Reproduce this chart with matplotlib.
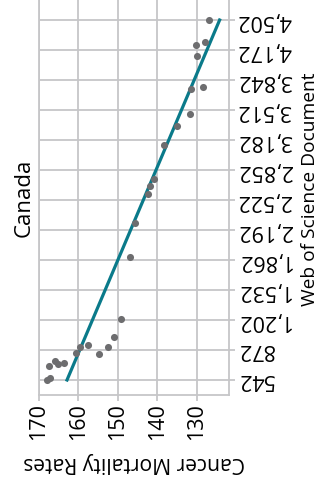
import matplotlib
matplotlib.use("Agg")
from matplotlib import pyplot as plt

plt.rcParams['font.family'] = ['Open Sans', 'DejaVu Sans']

# Canada: cancer mortality rate vs. Web of Science documents
rates = [126.9, 127.9, 130.2, 130.0, 131.4, 128.5, 131.6, 135.0, 138.2,
         140.8, 141.8, 142.3, 145.7, 146.8, 149.2, 151.1, 152.5, 154.8,
         157.5, 159.5, 160.7, 163.6, 165.1, 165.9, 167.5, 167.2, 168.0]
docs = [4502, 4263, 4227, 4106, 3746, 3761, 3468, 3339, 3130,
        2753, 2672, 2588, 2265, 1891, 1216, 1011, 901, 828,
        930, 908, 839, 725, 718, 747, 692, 564, 542]

# fitted trend line end points
trend_rates = [162.9, 124.2]
trend_docs = [542, 4502]

rate_ticks = [170, 160, 150, 140, 130]
doc_ticks = [542, 872, 1202, 1532, 1862, 2192, 2522, 2852,
             3182, 3512, 3842, 4172, 4502]

W, H = 320, 495
ax_h = 395
fig = plt.figure(figsize=(W / 100, H / 100), dpi=100)
ax = fig.add_axes([39 / W, 1 - ax_h / H, (228.7 - 39) / W, ax_h / H])

grid_c = '#c6c6c8'
ax.set_xlim(170, 121.9)
ax.set_ylim(377, 4722)
ax.set_xticks(rate_ticks)
ax.set_yticks(doc_ticks)
ax.set_yticklabels([f"{d:,}" for d in doc_ticks], rotation=180, va='center')
ax.set_xticklabels([str(r) for r in rate_ticks], rotation=90)
ax.grid(True, color=grid_c, linewidth=1.3)
ax.set_axisbelow(True)

ax.yaxis.tick_right()
ax.tick_params(axis='both', colors=grid_c, labelcolor='black',
               labelsize=15.5, length=4, width=1.3, pad=2)
for side in ['left', 'bottom', 'right']:
    ax.spines[side].set_color(grid_c)
    ax.spines[side].set_linewidth(1.3)
ax.spines['top'].set_visible(False)

ax.plot(trend_rates, trend_docs, color='#0a7a8a', linewidth=2.3, zorder=2)
ax.scatter(rates, docs, s=26, color='#6d6d6f', zorder=3, linewidths=0)

ax.set_xlabel('Cancer Mortality Rates', rotation=180, fontsize=15.2,
              ha='center', va='center', rotation_mode='anchor')
ax.xaxis.set_label_coords(0.5, -(462 - ax_h) / ax_h)
ax.yaxis.set_label_position('right')
ax.set_ylabel('Web of Science Document', rotation=90, fontsize=13.8,
              ha='center', va='center', rotation_mode='anchor')
ax.yaxis.set_label_coords((310 - 39) / 189.7, 1 - 189 / ax_h)

fig.text(24 / W, 1 - 198 / H, 'Canada', rotation=90, fontsize=16,
         ha='center', va='center')

plt.savefig('out.png', dpi=100)
